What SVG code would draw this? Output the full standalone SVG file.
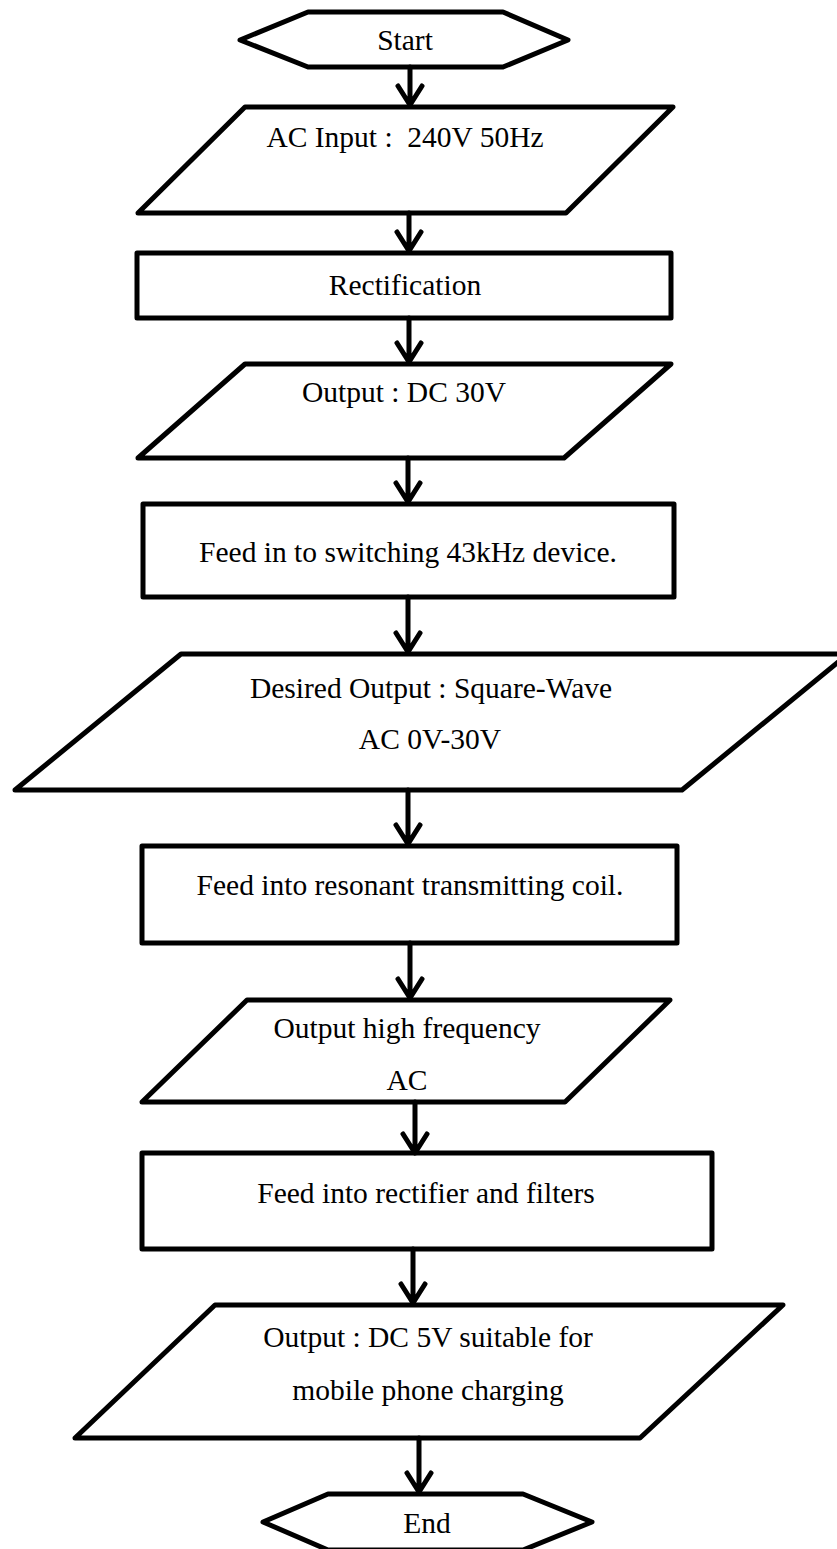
<svg xmlns="http://www.w3.org/2000/svg" width="837" height="1549" viewBox="0 0 837 1549">
<style>
.shape{fill:#fff;stroke:#000;stroke-width:5;stroke-linejoin:round}
.conn path{fill:none;stroke:#000;stroke-width:5;stroke-linecap:round;stroke-linejoin:round}
text{font-family:"Liberation Serif","Times New Roman",serif;font-size:29.5px;fill:#000;text-anchor:middle;white-space:pre}
</style>
<rect width="837" height="1549" fill="#fff"/>
<g id="start"><polygon class="shape" points="240,40 308,12 503,12 568,40 503,67 308,67"/><text x="405" y="50">Start</text></g>
<g id="ac-input"><polygon class="shape" points="245,107 673,107 566,213 138,213"/><text x="405" y="147" xml:space="preserve">AC Input :  240V 50Hz</text></g>
<g id="rectification"><rect class="shape" x="137" y="253" width="534" height="65"/><text x="405" y="295">Rectification</text></g>
<g id="dc30"><polygon class="shape" points="245,364 671,364 564,458 138,458"/><text x="404" y="402">Output : DC 30V</text></g>
<g id="switching"><rect class="shape" x="143" y="504" width="531" height="93"/><text x="408" y="562">Feed in to switching 43kHz device.</text></g>
<g id="square-wave"><polygon class="shape" points="181,654 848,654 682,790 15,790"/><text x="431" y="698">Desired Output : Square-Wave</text><text x="430" y="749">AC 0V-30V</text></g>
<g id="resonant"><rect class="shape" x="142" y="846" width="535" height="97"/><text x="410" y="895">Feed into resonant transmitting coil.</text></g>
<g id="high-freq"><polygon class="shape" points="247,1000 670,1000 565,1102 142,1102"/><text x="407" y="1038">Output high frequency</text><text x="407" y="1090">AC</text></g>
<g id="rectifier"><rect class="shape" x="142" y="1153" width="570" height="96"/><text x="426" y="1203">Feed into rectifier and filters</text></g>
<g id="dc5"><polygon class="shape" points="215,1305 783,1305 640,1438 75,1438"/><text x="428" y="1347">Output : DC 5V suitable for</text><text x="428" y="1400">mobile phone charging</text></g>
<g id="end"><polygon class="shape" points="263,1522 328,1494 523,1494 592,1522 523,1550 328,1550"/><text x="427" y="1533">End</text></g>
<g class="conn" id="connectors">
<path d="M410 67V105M398 86L410 105L422 86"/>
<path d="M409 213V251M397 232L409 251L421 232"/>
<path d="M409 318V362M397 343L409 362L421 343"/>
<path d="M408 458V502M396 483L408 502L420 483"/>
<path d="M408 597V652M396 633L408 652L420 633"/>
<path d="M408 790V844M396 825L408 844L420 825"/>
<path d="M410 943V998M398 979L410 998L422 979"/>
<path d="M415 1102V1153M403 1134L415 1153L427 1134"/>
<path d="M413 1249V1303M401 1284L413 1303L425 1284"/>
<path d="M419 1438V1492M407 1473L419 1492L431 1473"/>
</g>
</svg>
